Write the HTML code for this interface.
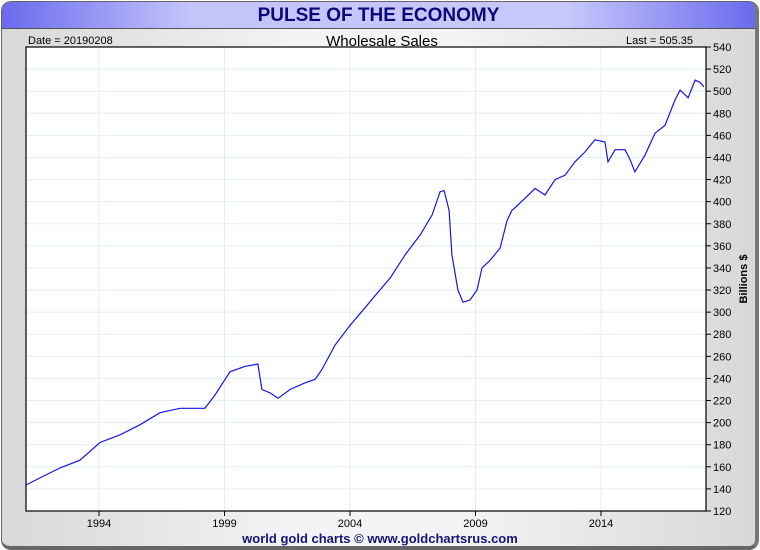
<!DOCTYPE html>
<html><head><meta charset="utf-8"><style>
body{margin:0;width:760px;height:550px;overflow:hidden;background:#fff;font-family:"Liberation Sans",sans-serif}
#frame{position:absolute;left:1px;top:1px;width:753px;height:544px;border:1px solid #666;border-right:4px solid #777;border-bottom:4px solid #666;border-radius:10px;background:linear-gradient(90deg,#d8d8d8,#f4f4f4 40%,#f4f4f4 60%,#d8d8d8);overflow:hidden}
#band{position:absolute;left:0;top:0;right:0;height:26px;background:linear-gradient(90deg,#6a6aee,#c4c4fb 25%,#c8c8fc 75%,#6a6aee);border-bottom:1px solid #555}
#title{position:absolute;left:0;right:0;top:3px;text-align:center;font-weight:bold;font-size:19px;color:#0a0a7a}
</style></head><body>
<div id="frame">
<div id="band"><div id="title">PULSE OF THE ECONOMY</div></div>
</div>
<svg id="svg" width="760" height="550" style="position:absolute;left:0;top:0" font-family="Liberation Sans, sans-serif">
<text x="28" y="44" font-size="11">Date = 20190208</text>
<text x="382" y="46" font-size="15" text-anchor="middle">Wholesale Sales</text>
<text x="693" y="44" font-size="11" text-anchor="end">Last = 505.35</text>
<rect x="26" y="47" width="680" height="464" fill="#fff"/>
<g id="grid"></g>
<polyline id="line" fill="none" stroke="#1515ee" stroke-width="1.2"/>
<rect x="26" y="47" width="680" height="464" fill="none" stroke="#000" stroke-width="1.2"/>
<g id="axes"></g>
<text transform="translate(747,279) rotate(-90)" font-size="11" font-weight="bold" text-anchor="middle">Billions $</text>
<text x="380" y="543" font-size="13" font-weight="bold" fill="#141478" text-anchor="middle">world gold charts © www.goldchartsrus.com</text>
</svg>
<script>
const years=[1991.09,1991.65,1992.45,1993.24,1994.04,1994.84,1995.63,1996.43,1997.23,1998.22,1998.62,1999.22,1999.82,2000.33,2000.49,2000.81,2001.13,2001.61,2002.21,2002.6,2002.88,2003.4,2004.0,2004.6,2005.0,2005.6,2006.2,2006.8,2007.27,2007.59,2007.75,2007.95,2008.06,2008.3,2008.5,2008.78,2009.06,2009.26,2009.58,2009.98,2010.26,2010.45,2010.97,2011.37,2011.77,2012.17,2012.57,2012.96,2013.36,2013.76,2014.16,2014.28,2014.56,2014.96,2015.16,2015.35,2015.75,2016.15,2016.55,2016.95,2017.15,2017.47,2017.75,2017.95,2018.1];
const values=[143.5,150,159,166,182,189,198,209,213,213,225,246,251,253,230,227,222,230,236,239,248,270,288,304,315,331,352,370,388,409,410,392,352,320,309,311,320,340,347,358,383,392,403,412,406,420,424,436,445,456,454,436,447,447,438,427,442,462,469,492,501,494,510,508,504];
const yTicks=[120,140,160,180,200,220,240,260,280,300,320,340,360,380,400,420,440,460,480,500,520,540];
const xTicks=[1994,1999,2004,2009,2014];
const X=yr=>99+(yr-1994)*25.1;
const Y=v=>511-(v-120)*464/420;
const NS='http://www.w3.org/2000/svg';
const grid=document.getElementById('grid'),axes=document.getElementById('axes');
function mk(tag,attrs,parent){const e=document.createElementNS(NS,tag);for(const k in attrs)e.setAttribute(k,attrs[k]);parent.appendChild(e);return e;}
yTicks.forEach(v=>{
 const g=mk('line',{x1:26,x2:706,y1:Y(v),y2:Y(v),stroke:'#e2eef8'},grid);
 
 
 const t=mk('line',{x1:706,x2:711,y1:Y(v),y2:Y(v),stroke:'#000'},axes);
 
 
 const l=mk('text',{x:713,y:Y(v)+4,'font-size':11},axes);
 l.textContent=v;
 
 
});
xTicks.forEach(yr=>{
 const g=mk('line',{x1:X(yr),x2:X(yr),y1:47,y2:511,stroke:'#e2eef8'},grid);
 
 
 const t=mk('line',{x1:X(yr),x2:X(yr),y1:511,y2:516,stroke:'#000'},axes);
 
 
 const l=mk('text',{x:X(yr),y:527,'font-size':11,'text-anchor':'middle'},axes);
 l.textContent=yr;
 
 
});
document.getElementById('line').setAttribute('points',years.map((yr,i)=>X(yr).toFixed(1)+','+Y(values[i]).toFixed(1)).join(' '));
</script>
</body></html>
